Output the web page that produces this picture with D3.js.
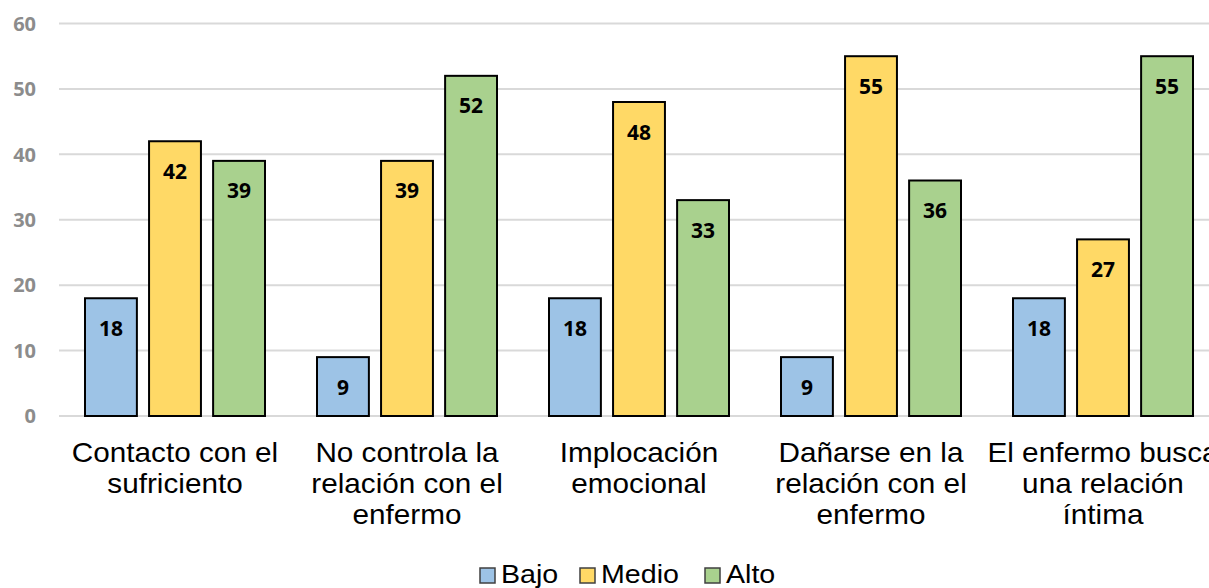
<!DOCTYPE html>
<html>
<head>
<meta charset="utf-8">
<script src="https://cdn.jsdelivr.net/npm/d3@7"></script>
<style>
  body { margin: 0; background: #fff; overflow: hidden; }
</style>
</head>
<body>
<script>
// datos
const categories = [
  ["Contacto con el", "sufriciento"],
  ["No controla la", "relación con el", "enfermo"],
  ["Implocación", "emocional"],
  ["Dañarse en la", "relación con el", "enfermo"],
  ["El enfermo busca", "una relación", "íntima"]
];
const seriesNames = ["Bajo", "Medio", "Alto"];
const bajo = [18, 9, 18, 9, 18];
const medio = [42, 39, 48, 55, 27];
const alto = [39, 52, 33, 36, 55];
const yTicks = [0, 10, 20, 30, 40, 50, 60];

const colors = ["#9DC3E6", "#FFD966", "#A9D18E"];
const values = [bajo, medio, alto];

const W = 1209, H = 588;
const stretch = 1.1; // la imagen original esta algo estirada en horizontal
const svg = d3.select("body").append("svg")
  .attr("width", W)
  .attr("height", H);

const x0 = d3.scaleBand()
  .domain(d3.range(categories.length))
  .range([59, 1219])
  .paddingInner(0)
  .paddingOuter(0);

const x1 = d3.scaleBand()
  .domain(seriesNames)
  .range([26, x0.bandwidth() - 26])
  .paddingInner(0.19);

const y = d3.scaleLinear()
  .domain([0, 60])
  .range([416, 23.5]);

//网格线
svg.append("g")
  .selectAll("line")
  .data(yTicks)
  .enter()
  .append("line")
  .attr("x1", 59)
  .attr("x2", W)
  .attr("y1", (d) => y(d))
  .attr("y2", (d) => y(d))
  .attr("stroke", "#d9d9d9")
  .attr("stroke-width", 2);

//y轴文字
svg.append("g")
  .selectAll("text")
  .data(yTicks)
  .enter()
  .append("text")
  .attr("x", 36)
  .attr("y", (d) => y(d))
  .attr("dy", "0.36em")
  .attr("text-anchor", "end")
  .attr("font-family", "'Open Sans', sans-serif")
  .attr("font-weight", "bold")
  .attr("font-size", 20)
  .attr("fill", "#8c8c8c")
  .text((d) => d);

//柱子
const groups = svg.append("g")
  .selectAll("g")
  .data(categories)
  .enter()
  .append("g")
  .attr("transform", (d, i) => `translate(${x0(i)},0)`);

groups.each(function (c, i) {
  const g = d3.select(this);
  const rows = seriesNames.map((s, k) => ({ s: s, v: values[k][i], color: colors[k] }));
  g.selectAll("rect")
    .data(rows)
    .enter()
    .append("rect")
    .attr("x", (d) => x1(d.s))
    .attr("y", (d) => y(d.v))
    .attr("width", x1.bandwidth())
    .attr("height", (d) => y(0) - y(d.v))
    .attr("fill", (d) => d.color)
    .attr("stroke", "#000")
    .attr("stroke-width", 2);
  g.selectAll(".lbl")
    .data(rows)
    .enter()
    .append("text")
    .attr("class", "lbl")
    .attr("x", (d) => x1(d.s) + x1.bandwidth() / 2)
    .attr("y", (d) => y(d.v) + 30)
    .attr("dy", "0.36em")
    .attr("text-anchor", "middle")
    .attr("font-family", "'Open Sans', sans-serif")
    .attr("font-weight", "bold")
    .attr("font-size", 21)
    .attr("fill", "#000")
    .text((d) => d.v);
  //类别文字
  const t = g.append("text")
    .attr("transform", `translate(${x0.bandwidth() / 2},0) scale(${stretch},1)`)
    .attr("text-anchor", "middle")
    .attr("font-family", "'Liberation Sans', Arial, sans-serif")
    .attr("font-size", 27)
    .attr("fill", "#000");
  t.selectAll("tspan")
    .data(c)
    .enter()
    .append("tspan")
    .attr("x", 0)
    .attr("y", (d, j) => 462 + j * 31)
    .text((d) => d);
});

//图例
const legendX = [480, 580, 705];
const legend = svg.append("g")
  .selectAll("g")
  .data(seriesNames)
  .enter()
  .append("g")
  .attr("transform", (d, i) => `translate(${legendX[i]},568)`);
legend.append("rect")
  .attr("width", 15)
  .attr("height", 15)
  .attr("fill", (d, i) => colors[i])
  .attr("stroke", "#404040")
  .attr("stroke-width", 1.5);
legend.append("text")
  .attr("transform", `translate(21,15) scale(${stretch},1)`)
  .attr("font-family", "'Liberation Sans', Arial, sans-serif")
  .attr("font-size", 26)
  .attr("fill", "#000")
  .text((d) => d);
</script>
</body>
</html>
